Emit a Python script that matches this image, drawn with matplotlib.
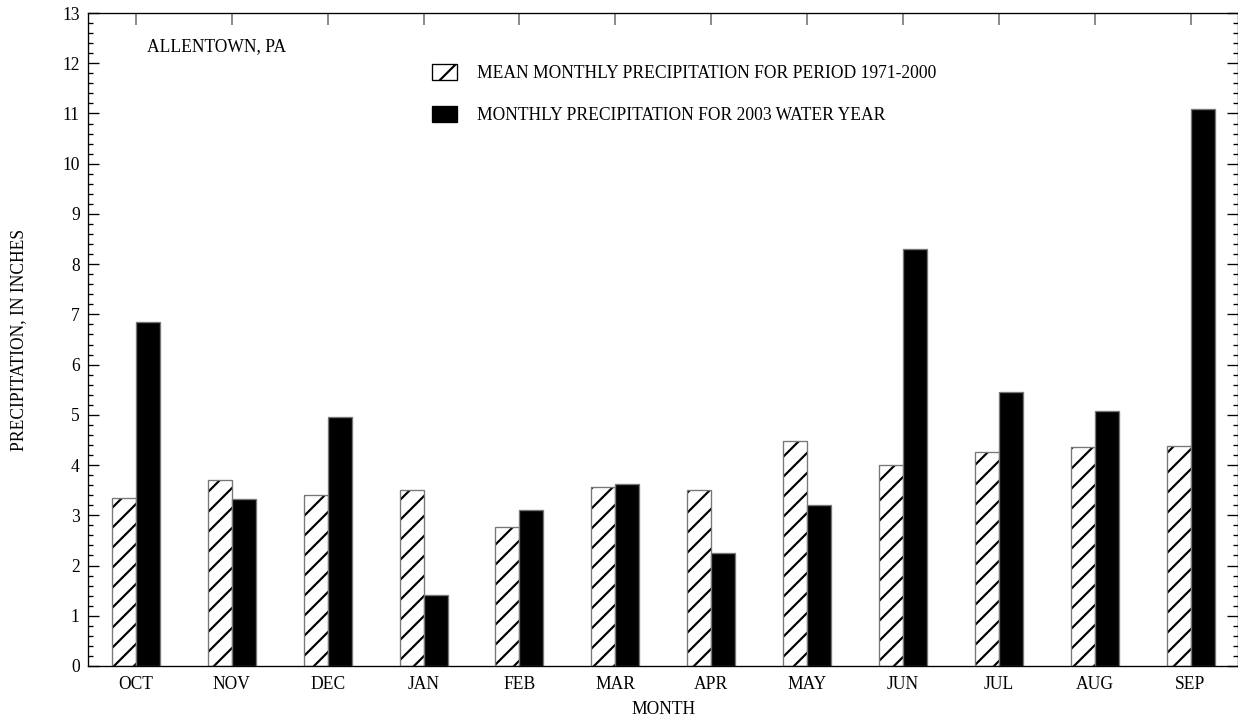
import matplotlib.pyplot as plt
import numpy as np
from matplotlib.patches import Patch
from matplotlib.ticker import MultipleLocator

months = ["OCT", "NOV", "DEC", "JAN", "FEB", "MAR",
          "APR", "MAY", "JUN", "JUL", "AUG", "SEP"]
mean_1971_2000 = [3.34, 3.71, 3.40, 3.51, 2.76, 3.56,
                  3.50, 4.47, 4.00, 4.27, 4.35, 4.37]
wy_2003 = [6.85, 3.32, 4.96, 1.41, 3.11, 3.63,
           2.24, 3.21, 8.31, 5.45, 5.08, 11.08]

plt.rcParams['font.family'] = ['Liberation Serif', 'DejaVu Serif']
plt.rcParams['hatch.linewidth'] = 1.3

fs = 10.5
edge = '#777777'

fig = plt.figure(figsize=(1238 / 120, 721 / 120), dpi=120)
ax = fig.add_axes([88 / 1238, 55 / 721, 1150.5 / 1238, 653 / 721])

x = np.arange(len(months))
w = 0.25
# hatched mean bars: black hatch, gray outline drawn on top
ax.bar(x - w / 2, mean_1971_2000, width=w, color='white', edgecolor='black',
       linewidth=0, hatch='//')
ax.bar(x - w / 2, mean_1971_2000, width=w, fill=False, edgecolor=edge,
       linewidth=0.8)
ax.bar(x + w / 2, wy_2003, width=w, color='black', edgecolor=edge,
       linewidth=0.8)

ax.set_xlim(-0.5, 11.5)
ax.set_ylim(0, 13)
ax.set_xticks(x)
ax.set_xticklabels(months, fontsize=fs)
ax.yaxis.set_major_locator(MultipleLocator(1))
ax.yaxis.set_minor_locator(MultipleLocator(0.2))
ax.tick_params(axis='y', which='major', direction='in', length=6.5,
               width=0.8, left=True, right=True, labelsize=fs, pad=5)
ax.tick_params(axis='y', which='minor', direction='in', length=3,
               width=0.8, left=True, right=True)
ax.tick_params(axis='x', direction='in', length=7, width=1.0, color=edge,
               bottom=False, top=True, labelbottom=True, pad=6)

for s in ax.spines.values():
    s.set_linewidth(0.8)

ax.set_xlabel("MONTH", fontsize=fs, labelpad=5)
ax.set_ylabel("PRECIPITATION, IN INCHES", fontsize=fs, labelpad=21)

ax.text(0.0513, 0.948, "ALLENTOWN, PA", transform=ax.transAxes,
        fontsize=fs, va='center', ha='left')

handles = [
    Patch(facecolor='white', edgecolor='black', linewidth=0.8, hatch='/'),
    Patch(facecolor='black', edgecolor='black', linewidth=0.8),
]
labels = ["MEAN MONTHLY PRECIPITATION FOR PERIOD 1971-2000",
          "MONTHLY PRECIPITATION FOR 2003 WATER YEAR"]
ax.legend(handles, labels, loc='upper left', bbox_to_anchor=(0.299, 0.922),
          frameon=False, fontsize=fs, handlelength=1.45, handleheight=1.0,
          handletextpad=1.1, labelspacing=1.4, borderpad=0, borderaxespad=0)

fig.savefig("out.png", dpi=120)
